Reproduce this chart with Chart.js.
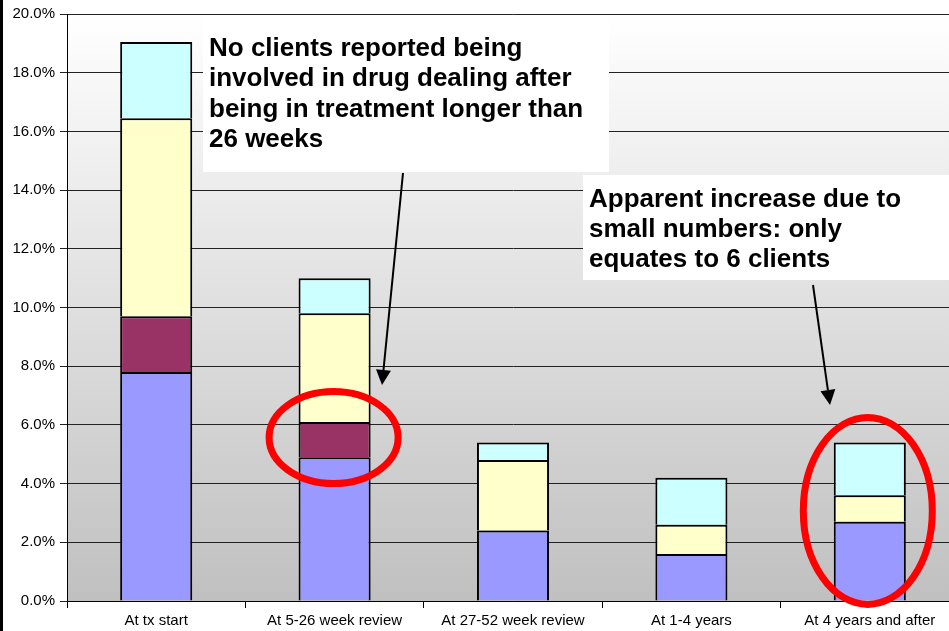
<!DOCTYPE html>
<html>
<head>
<meta charset="utf-8">
<script src="https://cdn.jsdelivr.net/npm/chart.js@4/dist/chart.umd.min.js"></script>
<style>
  html, body { margin: 0; padding: 0; background: #fff; overflow: hidden; width: 949px; height: 631px; }
  #wrap { position: absolute; left: 0; top: 0; width: 970px; height: 631px; }
</style>
</head>
<body>
<div id="wrap"><canvas id="c" width="970" height="631"></canvas></div>
<script>
// ---- Data (percent of clients) ----
const categories = ["At tx start", "At 5-26 week review", "At 27-52 week review", "At 1-4 years", "At 4 years and after"];
const seriesA = [7.8, 4.9, 2.4, 1.6, 2.7];   // blue
const seriesB = [1.9, 1.2, 0, 0, 0];         // maroon
const seriesC = [6.75, 3.7, 2.4, 1.0, 0.9];  // yellow
const seriesD = [2.6, 1.2, 0.6, 1.6, 1.8];   // cyan
const yTicks = [0, 2, 4, 6, 8, 10, 12, 14, 16, 18, 20];

const note1 = ["No clients reported being", "involved in drug dealing after", "being in treatment longer than", "26 weeks"];
const note2 = ["Apparent increase due to", "small numbers: only", "equates to 6 clients"];

const FONT = "'Liberation Sans', Arial, sans-serif";

const bgPlugin = {
  id: 'bg',
  beforeDraw(chart) {
    const ctx = chart.ctx, a = chart.chartArea;
    ctx.save();
    ctx.fillStyle = '#ffffff';
    ctx.fillRect(0, 0, chart.width, chart.height);
    const g = ctx.createLinearGradient(0, a.top, 0, a.bottom);
    g.addColorStop(0, '#ffffff');
    g.addColorStop(1, '#c0c0c0');
    ctx.fillStyle = g;
    ctx.fillRect(a.left, a.top, a.right - a.left, a.bottom - a.top);
    ctx.restore();
  }
};

function arrow(ctx, x1, y1, x2, y2) {
  const ang = Math.atan2(y2 - y1, x2 - x1);
  const len = 15, hw = 7.5;
  const bx = x2 - len * Math.cos(ang), by = y2 - len * Math.sin(ang);
  ctx.beginPath();
  ctx.moveTo(x1, y1);
  ctx.lineTo(bx, by);
  ctx.strokeStyle = '#000';
  ctx.lineWidth = 2;
  ctx.stroke();
  ctx.beginPath();
  ctx.moveTo(x2, y2);
  ctx.lineTo(bx + hw * Math.sin(ang), by - hw * Math.cos(ang));
  ctx.lineTo(bx - hw * Math.sin(ang), by + hw * Math.cos(ang));
  ctx.closePath();
  ctx.fillStyle = '#000';
  ctx.fill();
}

const annoPlugin = {
  id: 'anno',
  afterDraw(chart) {
    const ctx = chart.ctx;
    const xs = chart.scales.x, ys = chart.scales.y;
    ctx.save();
    // left black strip
    ctx.fillStyle = '#000';
    ctx.fillRect(0, 0, 3, chart.height);

    // text boxes
    ctx.fillStyle = '#ffffff';
    ctx.fillRect(203, 20, 406, 152);
    ctx.fillRect(583, 175, 380, 105);

    ctx.fillStyle = '#000';
    ctx.font = "bold 26px " + FONT;
    ctx.textBaseline = 'alphabetic';
    ctx.textAlign = 'left';
    note1.forEach((t, i) => ctx.fillText(t, 209, 56 + i * 30.4));
    note2.forEach((t, i) => ctx.fillText(t, 589, 207 + i * 30));

    // arrows
    arrow(ctx, 403, 173, 382, 385);
    arrow(ctx, 813, 285, 830, 405);

    // ellipses anchored to bars
    ctx.strokeStyle = '#ff0000';
    ctx.lineWidth = 7;
    ctx.beginPath();
    ctx.ellipse(xs.getPixelForValue(1) - 1, ys.getPixelForValue(5.57), 64.5, 46, 0, 0, Math.PI * 2);
    ctx.stroke();
    ctx.beginPath();
    ctx.ellipse(xs.getPixelForValue(4) - 2, ys.getPixelForValue(3.07), 64.5, 93.5, 0, 0, Math.PI * 2);
    ctx.stroke();
    ctx.restore();
  }
};

const mk = (label, data, color) => ({
  label, data: data.map(v => (v === 0 ? null : v)), backgroundColor: color, borderColor: '#000', borderWidth: 2,
  borderSkipped: 'start', categoryPercentage: 1.0, barPercentage: 0.404
});

new Chart(document.getElementById('c'), {
  type: 'bar',
  data: {
    labels: categories,
    datasets: [
      mk('Series 1', seriesA, '#9999ff'),
      mk('Series 2', seriesB, '#993366'),
      mk('Series 3', seriesC, '#ffffcc'),
      mk('Series 4', seriesD, '#ccffff')
    ]
  },
  options: {
    responsive: false,
    animation: false,
    layout: { padding: { left: 0, top: 14, right: 11, bottom: 0 } },
    plugins: { legend: { display: false }, tooltip: { enabled: false } },
    scales: {
      x: {
        stacked: true,
        grid: { drawOnChartArea: false, drawTicks: true, tickLength: 7, color: '#000', offset: true },
        border: { color: '#000', width: 1 },
        ticks: { color: '#000', font: { family: FONT, size: 15 }, padding: 4, maxRotation: 0, autoSkip: false },
        afterFit(s) { s.height = 30; }
      },
      y: {
        stacked: true,
        min: 0, max: 20,
        afterBuildTicks(s) { s.ticks = yTicks.map(v => ({ value: v })); },
        grid: { color: '#222', lineWidth: 1, tickLength: 7 },
        border: { color: '#000', width: 1 },
        ticks: { color: '#000', font: { family: FONT, size: 15 }, padding: 5,
                 callback: v => v.toFixed(1) + '%' },
        afterFit(s) { s.width = 67; }
      }
    }
  },
  plugins: [bgPlugin, annoPlugin]
});
</script>
</body>
</html>
